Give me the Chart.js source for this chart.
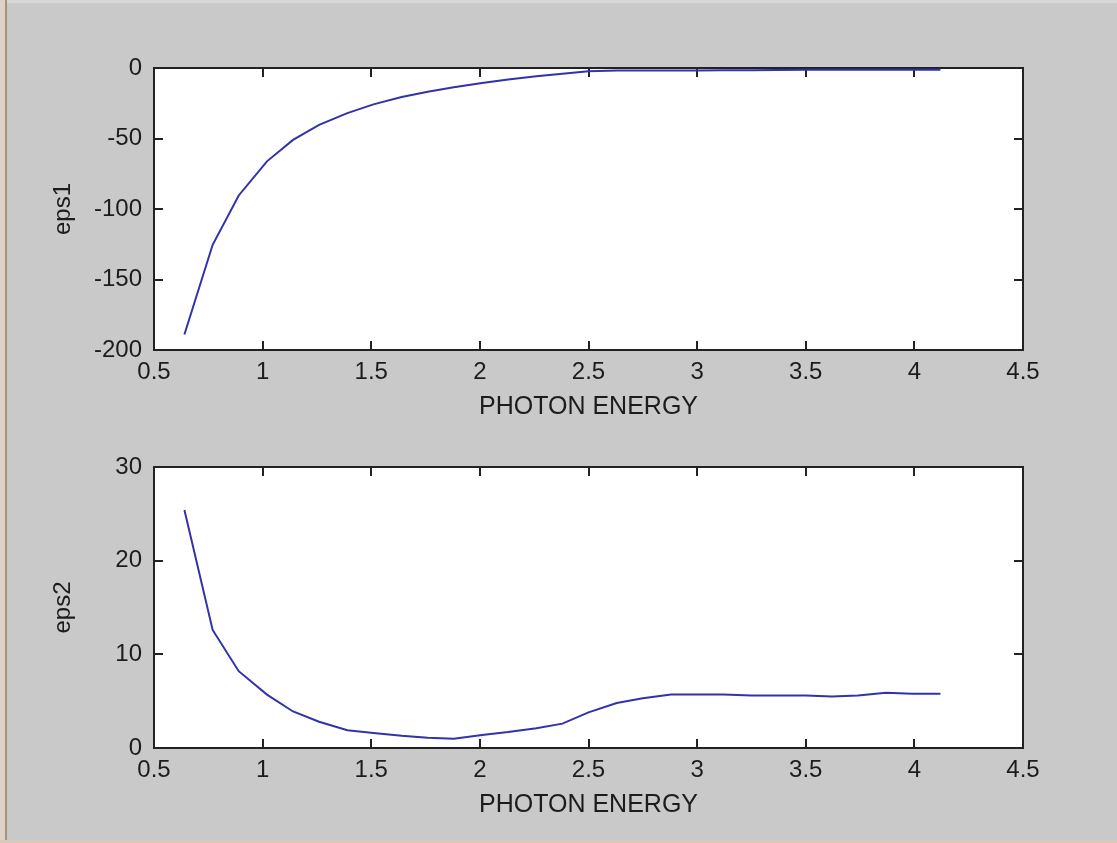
<!DOCTYPE html>
<html>
<head>
<meta charset="utf-8">
<script src="https://cdn.jsdelivr.net/npm/chart.js@4.4.1/dist/chart.umd.min.js"></script>
<style>
  html, body { margin: 0; padding: 0; }
  body {
    width: 1117px;
    height: 843px;
    background: #c9c9c9;
    position: relative;
    overflow: hidden;
  }
  .edge-top { position: absolute; left: 0; top: 0; width: 1117px; height: 3px; background: #d8d8d8; }
  .edge-left { position: absolute; left: 0; top: 0; width: 5px; height: 843px; background: #ddd3c8; }
  .edge-left2 { position: absolute; left: 5px; top: 0; width: 2px; height: 843px; background: #a7927e; }
  .edge-bottom { position: absolute; left: 0; top: 840px; width: 1117px; height: 3px; background: #d9c9b8; }
  canvas { position: absolute; left: 0; }
  #epsChart01 { top: 0; }
  #epsChart02 { top: 430px; }
</style>
</head>
<body>
<div class="edge-top"></div>
<div class="edge-left"></div>
<div class="edge-left2"></div>
<div class="edge-bottom"></div>
<canvas id="epsChart01" width="1117" height="430"></canvas>
<canvas id="epsChart02" width="1117" height="413"></canvas>
<script>
/** photon energy (eV) */
const energy = [
  0.64, 0.77, 0.89, 1.02, 1.14, 1.26, 1.39, 1.51, 1.64, 1.76,
  1.88, 2.01, 2.13, 2.26, 2.38, 2.50, 2.63, 2.75, 2.88, 3.00,
  3.12, 3.25, 3.37, 3.50, 3.62, 3.74, 3.87, 3.99, 4.12,
];
/** real part */
const eps1 = [
  -189.0, -125.4, -90.4, -66.2, -51.0, -40.3, -32.0, -25.8, -20.6, -16.8,
  -13.6, -10.7, -8.1, -5.8, -4.0, -2.3, -1.7, -1.8, -1.7, -1.7,
  -1.6, -1.6, -1.4, -1.2, -1.3, -1.3, -1.2, -1.2, -1.2,
];
/** imaginary part */
const eps2 = [
  25.4, 12.6, 8.2, 5.7, 3.9, 2.8, 1.9, 1.6, 1.3, 1.1,
  1.0, 1.4, 1.7, 2.1, 2.6, 3.8, 4.8, 5.3, 5.7, 5.7,
  5.7, 5.6, 5.6, 5.6, 5.5, 5.6, 5.9, 5.8, 5.8,
];

const xTicks = [0.5, 1, 1.5, 2, 2.5, 3, 3.5, 4, 4.5];
const eps1Ticks = [-200, -150, -100, -50, 0];
const eps2Ticks = [0, 10, 20, 30];

const lineColor = '#3232aa';
const textColor = '#1c1c1c';
const fontFamily = "'Liberation Sans', Arial, sans-serif";

// white plot area, black box and inward tick marks
const boxPlugin = {
  id: 'box',
  beforeDraw(chart) {
    const { ctx, chartArea: a } = chart;
    ctx.save();
    ctx.fillStyle = '#ffffff';
    ctx.fillRect(a.left, a.top, a.right - a.left, a.bottom - a.top);
    ctx.restore();
  },
  beforeDatasetsDraw(chart) {
    const { ctx, chartArea: a, scales } = chart;
    const len = 9;
    ctx.save();
    ctx.strokeStyle = '#222222';
    ctx.lineWidth = 2;
    ctx.beginPath();
    scales.x.ticks.forEach((t) => {
      const px = Math.round(scales.x.getPixelForValue(t.value));
      ctx.moveTo(px, a.bottom);
      ctx.lineTo(px, a.bottom - len);
      ctx.moveTo(px, a.top);
      ctx.lineTo(px, a.top + len);
    });
    scales.y.ticks.forEach((t) => {
      const py = Math.round(scales.y.getPixelForValue(t.value));
      ctx.moveTo(a.left, py);
      ctx.lineTo(a.left + len, py);
      ctx.moveTo(a.right, py);
      ctx.lineTo(a.right - len, py);
    });
    ctx.stroke();
    ctx.strokeRect(a.left, a.top, a.right - a.left, a.bottom - a.top);
    ctx.restore();
  },
};

function makeConfig(values, yTicks, yTitle, padTop, padBottom) {
  return {
    type: 'line',
    data: {
      datasets: [
        {
          data: energy.map((e, i) => ({ x: e, y: values[i] })),
          borderColor: lineColor,
          borderWidth: 2,
          pointRadius: 0,
          fill: false,
          tension: 0,
        },
      ],
    },
    options: {
      responsive: false,
      animation: false,
      devicePixelRatio: 1,
      layout: {
        padding: { left: 0, right: 94, top: padTop, bottom: padBottom },
      },
      plugins: {
        legend: { display: false },
        tooltip: { enabled: false },
      },
      scales: {
        x: {
          type: 'linear',
          min: xTicks[0],
          max: xTicks[xTicks.length - 1],
          afterBuildTicks: (scale) => {
            scale.ticks = xTicks.map((v) => ({ value: v }));
          },
          afterFit: (scale) => {
            scale.height = 72;
          },
          grid: { display: false, drawTicks: false },
          border: { display: false },
          ticks: {
            padding: 8,
            maxRotation: 0,
            autoSkip: false,
            color: textColor,
            font: { family: fontFamily, size: 24 },
            callback: (v) => String(v),
          },
          title: {
            display: true,
            text: 'PHOTON ENERGY',
            color: textColor,
            padding: { top: 0, bottom: 0 },
            font: { family: fontFamily, size: 25 },
          },
        },
        y: {
          type: 'linear',
          min: yTicks[0],
          max: yTicks[yTicks.length - 1],
          afterBuildTicks: (scale) => {
            scale.ticks = yTicks.map((v) => ({ value: v }));
          },
          afterFit: (scale) => {
            scale.width = 154;
          },
          grid: { display: false, drawTicks: false },
          border: { display: false },
          ticks: {
            padding: 12,
            autoSkip: false,
            color: textColor,
            font: { family: fontFamily, size: 24 },
            callback: (v) => String(v),
          },
          title: {
            display: true,
            text: yTitle,
            color: textColor,
            padding: { top: 49, bottom: 0 },
            font: { family: fontFamily, size: 24 },
          },
        },
      },
    },
    plugins: [boxPlugin],
  };
}

/** epsChart01 - eps1 */
const epsChart01 = new Chart(
  document.getElementById('epsChart01'),
  makeConfig(eps1, eps1Ticks, 'eps1', 68, 8)
);

/** epsChart02 - eps2 */
const epsChart02 = new Chart(
  document.getElementById('epsChart02'),
  makeConfig(eps2, eps2Ticks, 'eps2', 37, 23)
);
</script>
</body>
</html>
